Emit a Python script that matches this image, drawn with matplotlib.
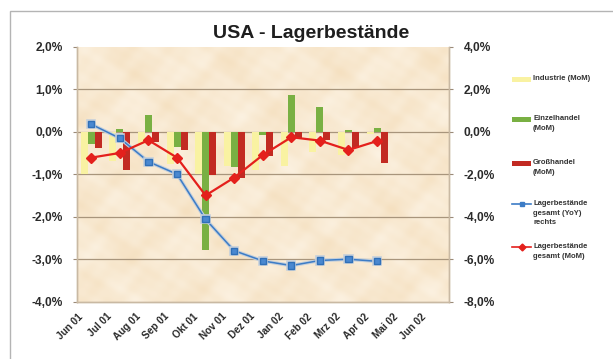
import numpy as np
import matplotlib
matplotlib.use("Agg")
import matplotlib.pyplot as plt
import matplotlib.transforms as mtrans
from matplotlib.lines import Line2D
from matplotlib.patches import Rectangle
from matplotlib.colors import LinearSegmentedColormap
import matplotlib.patheffects as pe
from matplotlib.ticker import FuncFormatter, MultipleLocator

plt.rcParams['font.family'] = ['Liberation Sans', 'DejaVu Sans']

months = ["Jun 01", "Jul 01", "Aug 01", "Sep 01", "Okt 01", "Nov 01", "Dez 01",
          "Jan 02", "Feb 02", "Mrz 02", "Apr 02", "Mai 02", "Jun 02"]

# monthly changes in %, left axis
industrie = [-1.0, -0.7, -0.3, -0.75, -1.0, -0.8, -0.9, -0.8, -0.47, -0.55, -0.05]
einzelhandel = [-0.3, 0.07, 0.4, -0.35, -2.78, -0.82, -0.08, 0.86, 0.58, 0.05, 0.08]
grosshandel = [-0.38, -0.9, -0.25, -0.42, -1.02, -1.1, -0.58, -0.15, -0.2, -0.38, -0.74]
gesamt_mom = [-0.61, -0.5, -0.2, -0.61, -1.5, -1.08, -0.55, -0.13, -0.21, -0.43, -0.22]
# year-over-year change in %, right axis
gesamt_yoy = [0.35, -0.31, -1.41, -2.0, -4.12, -5.6, -6.08, -6.3, -6.06, -6.0, -6.1]

labels = ["Industrie (MoM)", "Einzelhandel\n(MoM)", "Großhandel\n(MoM)",
          "Lagerbestände\ngesamt (YoY)\nrechts", "Lagerbestände\ngesamt (MoM)"]
title = "USA - Lagerbestände"

c_yellow = "#F9F2A2"
c_green = "#79B043"
c_red = "#C22A22"
c_line_red = "#E4201C"
c_blue = "#3C7CC6"

W, H = 613, 359
fig = plt.figure(figsize=(W / 100, H / 100), dpi=100)
fig.patch.set_facecolor("white")

# outer chart frame
fig.add_artist(Rectangle((10 / W, -0.05), 1.0, 1 - 11 / H + 0.05, transform=fig.transFigure,
                         fill=False, edgecolor="#B4B4B4", linewidth=1.0))

left, right, bottom, top = 77 / W, 448.5 / W, 1 - 301.7 / H, 1 - 46.7 / H
rect = [left, bottom, right - left, top - bottom]

# parchment background: soft blotches
ax_bg = fig.add_axes(rect, zorder=0)
gx, gy = np.meshgrid(np.linspace(0, 1, 400), np.linspace(0, 1, 260))
tex = (np.sin(gx * 23.0 + 1.3) * np.sin(gy * 17.0 + 0.4) +
       0.8 * np.sin(gx * 41.0 + gy * 7.0) * np.sin(gy * 31.0 - gx * 5.0 + 2.0) +
       0.6 * np.sin(gx * 67.0 + 0.7) * np.sin(gy * 53.0 + 1.9) +
       0.4 * np.sin(gx * 113.0 - gy * 29.0) * np.sin(gy * 89.0 + gx * 13.0))
parch = LinearSegmentedColormap.from_list("parch", ["#F5E0C0", "#FCF2E2"])
ax_bg.imshow(tex, extent=[0, 1, 0, 1], cmap=parch, aspect="auto", interpolation="bicubic")
ax_bg.set_xlim(0, 1)
ax_bg.set_ylim(0, 1)
ax_bg.axis("off")

ax = fig.add_axes(rect, zorder=1)
ax.patch.set_visible(False)

n = len(months)
x = np.arange(n)
k = len(industrie)
xb = x[:k]
w = 0.245

ax.set_xlim(-0.5, n - 0.5)
ax.set_ylim(-4, 2)
for g in np.arange(-3, 2, 1):
    ax.axhline(g, color="#A8957C", linewidth=0.9, zorder=1)

ax.bar(xb - w, industrie, w, color=c_yellow, zorder=2)
ax.bar(xb, einzelhandel, w, color=c_green, zorder=2)
ax.bar(xb + w, grosshandel, w, color=c_red, zorder=2)

ax2 = ax.twinx()
ax2.set_zorder(2)
ax2.patch.set_visible(False)
ax2.set_ylim(-8, 4)
ax2.set_xlim(-0.5, n - 0.5)
ax2.plot(xb, gesamt_yoy, color=c_blue, linewidth=1.1, marker="s", markersize=4.5,
         markerfacecolor="#4A88D0", markeredgecolor="#3070B8", zorder=3,
         path_effects=[pe.Stroke(linewidth=2.6, foreground="#C4CFDB"), pe.Normal()])
# total MoM belongs to the left scale, drawn on top of the blue line
ax2.plot(xb, gesamt_mom, color=c_line_red, linewidth=1.6, marker="D", markersize=5,
         markerfacecolor=c_line_red, markeredgecolor=c_line_red, zorder=4,
         transform=ax.transData)

pct = FuncFormatter(lambda v, p: ("%.1f%%" % v).replace(".", ","))
ax.yaxis.set_major_locator(MultipleLocator(1))
ax.yaxis.set_major_formatter(pct)
ax2.yaxis.set_major_locator(MultipleLocator(2))
ax2.yaxis.set_major_formatter(pct)

tick_font = dict(fontsize=8.6, fontweight="bold", color="#2A2A2A")
for lab in ax.get_yticklabels():
    lab.set(**tick_font)
for lab in ax2.get_yticklabels():
    lab.set(**tick_font)
ax.tick_params(axis="y", length=3, color="#9A8A78", pad=7)
ax2.tick_params(axis="y", length=3, color="#9A8A78", pad=8)

ax.set_xticks(x)
ax.set_xticklabels(months, rotation=45, ha="right", va="top", rotation_mode="anchor",
                   fontsize=7.2, fontweight="bold", color="#2A2A2A")
ax.tick_params(axis="x", length=0, pad=7)
ax2.tick_params(axis="x", length=0, labelbottom=False)
shift = mtrans.ScaledTranslation(-13 / 100, 0, fig.dpi_scale_trans)
for lab in ax.get_xticklabels():
    lab.set_transform(lab.get_transform() + shift)

for a in (ax, ax2):
    for s in a.spines.values():
        s.set_color("#C9B9A3")
        s.set_linewidth(1.0)
    a.spines["top"].set_visible(False)

fig.text(311 / W, 1 - 33 / H, title, ha="center", va="center",
         fontsize=14, fontweight="bold", color="#1E1E1E")

# legend on the right
handles = [
    ("bar", c_yellow), ("bar", c_green), ("bar", c_red),
    ("line", c_blue, "s"), ("line", c_line_red, "D"),
]
ys = [79.5, 119.5, 163.5, 204.5, 247]
hx0, hx1, tx = 512, 531, 533
for (h, lab, yy) in zip(handles, labels, ys):
    yf = 1 - yy / H
    if h[0] == "bar":
        fig.add_artist(Rectangle((hx0 / W, yf - 2.5 / H), (hx1 - hx0) / W, 5 / H,
                                 transform=fig.transFigure, facecolor=h[1], edgecolor="none"))
    else:
        fig.add_artist(Line2D([hx0 / W, hx1 / W], [yf, yf], transform=fig.transFigure,
                              color=h[1], linewidth=1.2))
        fig.add_artist(Line2D([(hx0 + hx1) / 2 / W], [yf], transform=fig.transFigure,
                              color=h[1], marker=h[2], markersize=3.5, linestyle="none"))
    fig.text(tx / W, yf + 4 / H, lab, ha="left", va="top", fontsize=5.5,
             fontweight="bold", color="#333333", linespacing=1.5)

fig.savefig("out.png", dpi=100)
